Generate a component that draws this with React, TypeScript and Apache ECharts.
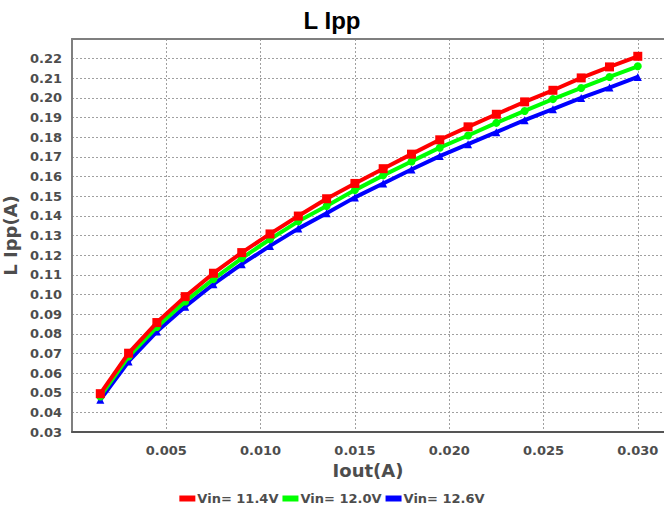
import React, { useEffect, useRef } from "react";
import * as echarts from "echarts";

const xValues = [0.0015, 0.003, 0.0045, 0.006, 0.0075, 0.009, 0.0105, 0.012, 0.0135, 0.015, 0.0165, 0.018, 0.0195, 0.021, 0.0225, 0.024, 0.0255, 0.027, 0.0285, 0.03];
const vin114 = [0.0495, 0.0701, 0.0857, 0.0989, 0.1108, 0.1213, 0.1308, 0.1399, 0.1487, 0.1565, 0.164, 0.1714, 0.1787, 0.1853, 0.1917, 0.198, 0.2039, 0.2102, 0.2158, 0.2212];
const vin120 = [0.0481, 0.0684, 0.0834, 0.0964, 0.1078, 0.1184, 0.1281, 0.1372, 0.145, 0.1531, 0.1606, 0.1677, 0.1747, 0.1809, 0.1873, 0.1934, 0.1994, 0.2051, 0.2107, 0.2161];
const vin126 = [0.0464, 0.0659, 0.0811, 0.0938, 0.1052, 0.1154, 0.1247, 0.1335, 0.1413, 0.1494, 0.1565, 0.1636, 0.1704, 0.1765, 0.1826, 0.1887, 0.1943, 0.2, 0.2053, 0.2107];
const seriesNames = ["Vin= 11.4V", "Vin= 12.0V", "Vin= 12.6V"];
const xTickLabels = ["0.005", "0.010", "0.015", "0.020", "0.025", "0.030"];

export default function App() {
  const ref = useRef<HTMLDivElement>(null);
  useEffect(() => {
    if (!ref.current) return;
    const chart = echarts.init(ref.current, null, { renderer: "svg" });
    const font = "DejaVu Sans, sans-serif";
    const titleFont = "Liberation Sans, Arial, sans-serif";
    const labelColor = "#4d4d4d";
    const gridLine = { show: true, lineStyle: { color: "#a0a0a0", type: [2, 2], width: 1 } };
    const mk = (vals: number[]) => xValues.map((x, i) => [x, vals[i]]);
    const seriesDefs = [
      { name: seriesNames[0], data: mk(vin114), color: "#ff0000", symbol: "rect", size: 9, z: 5 },
      { name: seriesNames[1], data: mk(vin120), color: "#00ff00", symbol: "circle", size: 8, z: 4 },
      { name: seriesNames[2], data: mk(vin126), color: "#0000ff", symbol: "triangle", size: 8, z: 3 },
    ];
    chart.setOption({
      animation: false,
      backgroundColor: "#ffffff",
      title: {
        text: "L Ipp",
        left: "center",
        top: 3,
        textStyle: { fontFamily: titleFont, fontWeight: "bold", fontSize: 24, color: "#000" },
      },
      legend: {
        bottom: 5,
        left: "center",
        itemGap: 4,
        itemWidth: 16,
        itemHeight: 6,
        icon: "rect",
        textStyle: { fontFamily: font, fontWeight: "bold", fontSize: 13, color: labelColor, padding: [0, 0, 0, -3] },
        data: seriesNames,
      },
      grid: {
        left: 72,
        top: 39,
        right: 0,
        bottom: 83,
        outerBoundsMode: "none",
        containLabel: false,
      },
      xAxis: [
        {
          type: "value",
          min: 0,
          max: 0.03139,
          interval: 0.005,
          name: "Iout(A)",
          nameLocation: "middle",
          nameGap: 26,
          nameTextStyle: { fontFamily: font, fontWeight: "bold", fontSize: 18, color: labelColor },
          axisLine: { show: true, lineStyle: { color: "#555", width: 2 } },
          axisTick: { show: false },
          axisLabel: {
            margin: 12,
            fontFamily: font,
            fontWeight: "bold",
            fontSize: 13,
            color: labelColor,
            formatter: (v: number) => {
              const s = v.toFixed(3);
              return xTickLabels.includes(s) ? s : "";
            },
          },
          splitLine: gridLine,
        },
        {
          type: "value",
          position: "top",
          min: 0,
          max: 0.03139,
          axisLine: { show: true, onZero: false, lineStyle: { color: "#7f7f7f", width: 2 } },
          axisTick: { show: false },
          axisLabel: { show: false },
          splitLine: { show: false },
        },
      ],
      yAxis: {
        type: "value",
        min: 0.03,
        max: 0.23,
        interval: 0.01,
        name: "L Ipp(A)",
        nameLocation: "middle",
        nameGap: 39,
        nameTextStyle: { fontFamily: font, fontWeight: "bold", fontSize: 18, color: labelColor },
        axisLine: { show: true, lineStyle: { color: "#7f7f7f", width: 2 } },
        axisTick: { show: false },
        axisLabel: {
          margin: 10,
          fontFamily: font,
          fontWeight: "bold",
          fontSize: 13,
          color: labelColor,
          showMaxLabel: false,
          formatter: (v: number) => v.toFixed(2),
        },
        splitLine: gridLine,
      },
      series: seriesDefs.map((s) => ({
        type: "line",
        name: s.name,
        data: s.data,
        z: s.z,
        symbol: s.symbol,
        symbolSize: s.size,
        showAllSymbol: true,
        lineStyle: { color: s.color, width: 4 },
        itemStyle: { color: s.color },
      })),
    });
    return () => chart.dispose();
  }, []);
  return <div ref={ref} style={{ position: "fixed", left: 0, top: 0, width: 664, height: 515 }} />;
}
